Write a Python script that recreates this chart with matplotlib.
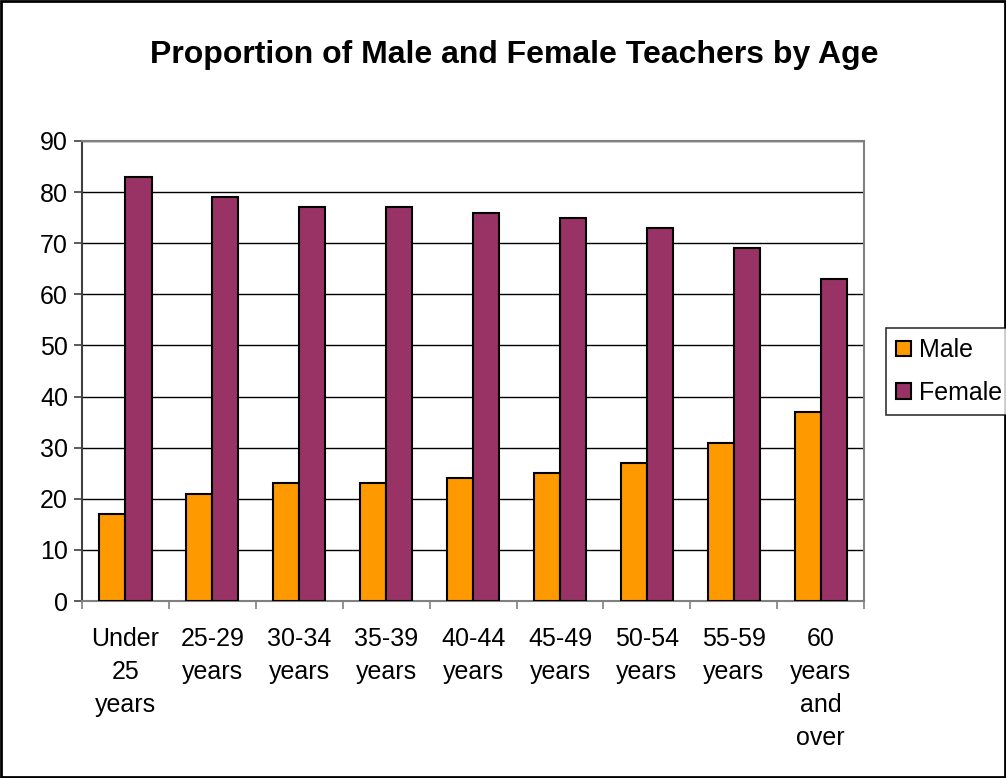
import matplotlib.pyplot as plt
from matplotlib.patches import Rectangle
import numpy as np

plt.rcParams['font.family'] = ['Liberation Sans', 'DejaVu Sans']

# data
categories = ['Under\n25\nyears', '25-29\nyears', '30-34\nyears', '35-39\nyears',
              '40-44\nyears', '45-49\nyears', '50-54\nyears', '55-59\nyears',
              '60\nyears\nand\nover']
male = [17, 21, 23, 23, 24, 25, 27, 31, 37]
female = [83, 79, 77, 77, 76, 75, 73, 69, 63]

fig = plt.figure(figsize=(10.06, 7.78), dpi=100)
ax = fig.add_axes([0.0815, 0.2275, 0.7775, 0.5913])

x = np.arange(len(categories))
w = 0.3
ax.bar(x - w / 2, male, w, color='#FF9900', edgecolor='black', linewidth=1.5,
       label='Male', zorder=3)
ax.bar(x + w / 2, female, w, color='#993366', edgecolor='black', linewidth=1.5,
       label='Female', zorder=3)

ax.set_xlim(-0.5, len(categories) - 0.5)
ax.set_ylim(0, 90)
ax.set_yticks(range(0, 91, 10))
ax.yaxis.grid(True, color='black', linewidth=1, zorder=0)

# category labels between boundary ticks
ax.set_xticks(np.arange(-0.5, len(categories)), minor=False)
ax.set_xticklabels([])
ax.set_xticks(x, minor=True)
ax.set_xticklabels(categories, minor=True, fontsize=18, linespacing=1.46)
ax.tick_params(axis='x', which='minor', length=0, pad=19)
ax.tick_params(axis='x', which='major', length=6, color='#808080', width=1.2)
ax.tick_params(axis='y', length=6, labelsize=18, color='#404040', width=1.2, pad=4)

for s in ['top', 'right']:
    ax.spines[s].set_color('#808080')
    ax.spines[s].set_linewidth(1.5)
ax.spines['left'].set_color('#404040')
ax.spines['left'].set_linewidth(1.5)
ax.spines['bottom'].set_color('#808080')
ax.spines['bottom'].set_linewidth(1.5)

fig.text(0.511, 0.929, 'Proportion of Male and Female Teachers by Age',
         ha='center', va='center', fontsize=23, fontweight='bold')

leg = fig.legend(loc='upper left', bbox_to_anchor=(0.881, 0.578), fontsize=18,
                 frameon=True, fancybox=False, edgecolor='black',
                 handlelength=0.6, handleheight=0.6, handletextpad=0.3,
                 borderpad=0.4, labelspacing=0.75, borderaxespad=0)
leg.get_frame().set_linewidth(1.2)

fig.patches.append(Rectangle((0.001, 0.001), 0.998, 0.998, transform=fig.transFigure,
                             fill=False, edgecolor='black', linewidth=2))

fig.savefig('out.png', dpi=100)
